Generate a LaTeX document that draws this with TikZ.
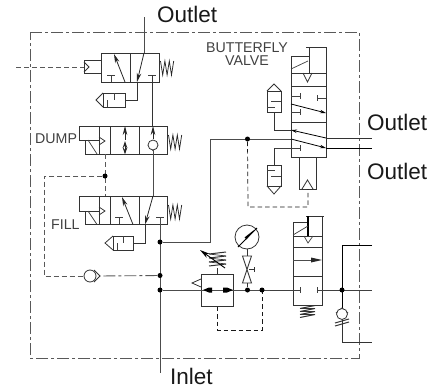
\documentclass[tikz,border=0pt]{standalone}
\usepackage{fontspec}
\setmainfont{Liberation Sans}
\usetikzlibrary{arrows.meta}
\tikzset{
  ln/.style={line width=0.8pt,draw=black!80},
  thin ln/.style={line width=0.7pt,draw=black!75},
  pipe/.style={line width=1pt,draw=black!70},
  pilot/.style={line width=0.9pt,draw=black!65,dash pattern=on 5pt off 3pt},
  pilot dark/.style={line width=0.7pt,draw=black!90,dash pattern=on 4.5pt off 3pt},
  border/.style={line width=0.9pt,draw=black!65,dash pattern=on 12pt off 3pt on 3pt off 3pt},
  flow/.style={line width=0.8pt,draw=black!85,-{Stealth[length=9pt,width=4.5pt]}},
  big/.style={font=\fontsize{22.5}{24}\selectfont,text=black!90,inner sep=0pt},
  small/.style={font=\fontsize{14.2}{15}\selectfont,text=black!75,inner sep=0pt,align=center},
  dot/.style={circle,fill=black,inner sep=0pt,minimum size=5pt},
}
\newcommand{\springH}[3]{%
  \draw[line width=0.75pt,black!85] (#1,#2-#3) -- ++(2.2,2*#3) -- ++(2.2,-2*#3) -- ++(2.2,2*#3) -- ++(2.2,-2*#3) -- ++(2.2,2*#3) -- ++(2.2,-2*#3);}
\newcommand{\Tup}[2]{\draw[thin ln] (#1-4,#2) -- (#1+4,#2) (#1,#2) -- (#1,#2+7);}
\newcommand{\Tside}[3]{\draw[thin ln] (#1,#3-3) -- (#1,#3+3) (#1,#3) -- (#2,#3);}
\begin{document}
\begin{tikzpicture}[x=1pt,y=-1pt]
\useasboundingbox (0,0) rectangle (439,388);
% enclosure
\draw[border] (30,32) -- (359,32) -- (359,358) -- (30,358) -- cycle;
% labels
\node[big,anchor=west] (outtop) at (157,14) {Outlet};
\node[big,anchor=west] (outa) at (367,122) {Outlet};
\node[big,anchor=west] (outb) at (367,171) {Outlet};
\node[big,anchor=west] (inlet) at (170,376.5) {Inlet};
\node[small] (bv) at (247,54) {BUTTERFLY\\[-2pt]VALVE};
\node[small,anchor=west] (dump) at (35,139) {DUMP};
\node[small,anchor=west] (fill) at (51,225) {FILL};
% valve 1
\draw[ln] (101,53) rectangle (159,82) (130,53) -- (130,82);
\draw[ln] (101,60) -- (84,60) -- (84,73) -- (101,73);
\draw[ln] (84,62) -- (89,67) -- (84,72);
\draw[pilot] (16,67) -- (84,67);
\springH{160.5}{68}{7}
\draw[flow] (125,82) -- (114,54);
\Tup{111}{75}
\draw[pipe] (144,17) -- (144,53);
\draw[flow] (144,53) -- (137,82);
\draw[ln] (137,82) -- (137,100) -- (125,100);
\draw[thin ln] (148,75) -- (156,75);
\draw[ln] (152,75) -- (152,126);
% silencer 1
\draw[ln] (125,93) -- (103,93) -- (103,107) -- (125,107) -- cycle;
\draw[ln] (103,93) -- (96,100) -- (103,107);
\draw[thin ln] (107,107) -- (107,100) (114,93) -- (114,100);
% valve 2 DUMP
\draw[ln] (79,126) -- (167,126) -- (167,154) -- (85,154) -- (85,140);
\draw[ln] (79,126) -- (79,140) -- (99,140);
\draw[ln] (99,126) -- (99,154) (110,126) -- (110,154) (139,126) -- (139,154);
\draw[ln] (99,137) -- (105,141) -- (99,145);
\draw[thin ln] (88,140) -- (97,154);
\springH{168.5}{142}{7}
\draw[line width=0.8pt,black!85,{Stealth[length=9pt,width=4.5pt]}-] (125,126) -- (125,140);
\draw[line width=0.8pt,black!85,{Stealth[length=7pt,width=4.5pt]}-{Stealth[length=7pt,width=4.5pt]}] (125,141) -- (125,154.5);
\draw[flow] (153,139) -- (153,126);
\draw[ln] (148,145) -- (153,150.5) -- (158,145);
\draw[ln,fill=white] (153,145) circle (5);
\draw[pipe] (153,150) -- (153,196);
% pilot lines
\draw[pilot] (105,154) -- (105,196);
\node[dot] (pd) at (105,176) {};
\draw[pilot] (pd) -- (44,176) -- (44,276) -- (84,276);
% valve 3 FILL
\draw[ln] (79,196) -- (167,196) -- (167,224.5) -- (85,224.5) -- (85,211);
\draw[ln] (79,196) -- (79,211) -- (99,211);
\draw[ln] (99,196) -- (99,224.5) (110,196) -- (110,224.5) (139,196) -- (139,224.5);
\draw[ln] (99,207) -- (105,211) -- (99,215);
\draw[thin ln] (88,211) -- (97,224.5);
\springH{168.5}{212}{7}
\draw[flow] (133,224.5) -- (122,197);
\Tup{119}{217}
\draw[flow] (153,196) -- (145,224.5);
\draw[ln] (145,224.5) -- (145,243) -- (133,243);
\draw[thin ln] (156,217) -- (164,217);
% silencer 2
\draw[ln] (133,236) -- (113,236) -- (113,250) -- (133,250) -- cycle;
\draw[ln] (113,236) -- (105,243) -- (113,250);
\draw[thin ln] (117,250) -- (117,243) (123,236) -- (123,243);
% main inlet
\draw[pipe] (160,217) -- (160,373);
\node[dot] (d1) at (160,242) {};
\node[dot] (d2) at (160,275.5) {};
\node[dot] (d3) at (160,290) {};
\draw[pipe] (d1) -- (210,242) -- (210,139) -- (291,139);
\node[dot] (d4) at (247.5,139) {};
\draw[border] (d2) -- (100,276);
% check valve
\draw[ln] (94,270) -- (100,276) -- (94,282);
\draw[ln,fill=white] (90,276) circle (6);
% regulator
\draw[ln] (201,274) rectangle (233.5,306.5);
\draw[ln] (201,279) -- (192,283) -- (201,287);
\draw[pipe] (d3) -- (300,290);
\fill[black] (203,290) -- (209,287.5) -- (212,287.5) -- (212,292.5) -- (209,292.5) -- cycle;
\fill[black] (223,287.5) -- (227,287.5) -- (233,290) -- (227,292.5) -- (223,292.5) -- cycle;
\draw[ln] (217,268) -- (217,274);
\foreach \y in {254,258,262,266} \draw[line width=1pt,black!80] (209,\y) -- (226,\y-2);
\draw[line width=0.7pt,black!80] (209,254) -- (226,256) (209,258) -- (226,260) (209,262) -- (226,264);
\draw[line width=0.9pt,black,{Stealth[length=10pt,width=5pt]}-] (200,250) -- (225,268);
\draw[pilot dark] (217,306.5) -- (217,330) -- (262,330) -- (262,290);
\node[dot] (d5) at (247.5,290) {};
\node[dot] (d6) at (262,290) {};
% gauge and valve
\draw[ln] (247,237) circle (12);
\draw[line width=0.8pt] (238,247) -- (257,228);
\fill[black] (254,230) -- (244.5,237.5) -- (246.5,239.5) -- cycle;
\draw[ln] (247,249) -- (247,256);
\draw[ln] (242.5,256) -- (251.5,256) -- (242.5,283) -- (251.5,283) -- cycle;
\draw[ln] (249,269.5) -- (254,269.5) (254.5,267) -- (254.5,272);
\draw[ln] (d5) -- (247.5,283);
% butterfly valve
\draw[ln] (291,56) -- (291,157) -- (326,157) -- (326,73) -- (291,73);
\draw[ln] (291,56) -- (309,56) (309,47) -- (309,73) (326,73) -- (326,47) (306,47) -- (327,47);
\draw[thin ln] (291,69) -- (308,61);
\draw[ln] (303,73) -- (307.5,82) -- (312,73);
\draw[ln] (291,86) -- (326,86) (291,122) -- (326,122);
\Tside{300}{291}{96}
\Tside{300}{291}{112}
\Tside{317}{326}{98}
\draw[line width=0.8pt,-{Stealth[length=6pt,width=3.5pt]}] (291,104) -- (326,113);
\draw[ln] (274,112) -- (274,130) -- (291,130);
\draw[line width=0.8pt,-{Stealth[length=6pt,width=3.5pt]}] (326,138) -- (291,130);
\draw[ln] (326,138) -- (372,138);
\draw[line width=0.8pt,-{Stealth[length=6pt,width=3.5pt]}] (291,139) -- (326,148);
\draw[line width=0.9pt,black] (326,148) -- (372,148);
\Tside{300}{274}{148}
\draw[ln] (274,148) -- (274,165);
% silencer 3
\draw[ln] (267,91) rectangle (281,112);
\draw[ln] (267,91) -- (274,84) -- (281,91);
\draw[thin ln] (271,101) -- (281,101) (267,107) -- (275,107);
% silencer 4
\draw[ln] (267,165) rectangle (281,186);
\draw[ln] (267,186) -- (274,194) -- (281,186);
\draw[thin ln] (271,176) -- (281,176) (267,170) -- (275,170);
% butterfly cylinder
\draw[ln] (299,157) -- (299,189) -- (316,189) -- (316,157);
\draw[ln] (302,189) -- (307.5,180) -- (313,189);
\draw[pilot dark] (d4) -- (248,207) -- (308,207) -- (308,189);
% lower valve
\draw[ln] (293,222) -- (293,305) -- (322,305) -- (322,216) (306,216) -- (324,216);
\draw[ln] (293,222) -- (308,222) (293,236) -- (322,236) (293,247) -- (322,247) (293,276) -- (322,276);
\draw[line width=1.3pt,black] (308,216) -- (308,236);
\draw[thin ln] (293,235) -- (308,226);
\draw[thin ln] (304,236) -- (308,243) -- (313,236);
\draw[pipe] (293,260) -- (311,260);
\fill[black!85] (311,257.5) -- (322,260) -- (311,262.5) -- cycle;
\Tside{300}{270}{290}
\Tside{317}{372}{290}
\node[dot] (d7) at (342,290) {};
\foreach \y in {307,310,313,316} \draw[line width=1pt,black!80] (300,\y+1.5) -- (315,\y-1.5);
\draw[line width=0.7pt,black!80] (300,308.5) -- (315,308.5) (300,311.5) -- (315,311.5) (300,314.5) -- (315,314.5);
\draw[ln,black] (372,245) -- (342,245) -- (342,308);
\draw[ln] (342,319) -- (342,342) -- (372,342);
\draw[ln] (336,313) -- (342,308) -- (348,313);
\draw[ln,fill=white] (342,314) circle (5.5);
\foreach \y in {321,324} \draw[line width=1pt,black!80] (335,\y+2) -- (349,\y-2);
\end{tikzpicture}
\end{document}
